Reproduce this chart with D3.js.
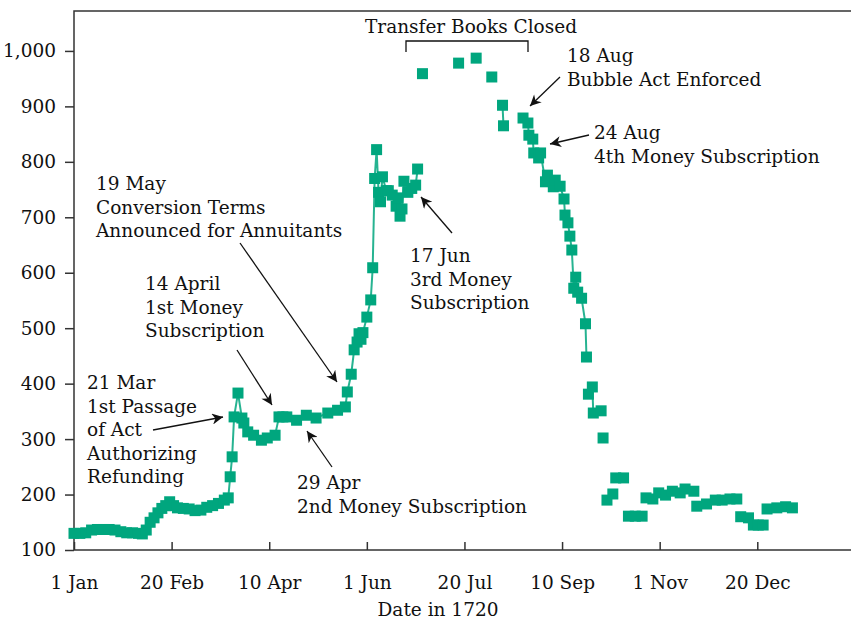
<!DOCTYPE html>
<html>
<head>
<meta charset="utf-8">
<script src="https://cdn.jsdelivr.net/npm/d3@7"></script>
<style>
    body { margin: 0; background: #fff; }
    text { font-family: "DejaVu Serif", "Liberation Serif", serif; fill: #111; }
</style>
</head>
<body>
<div id="chart"></div>
<script>
// Day of year 1720 (0 = 1 Jan) and share price
const days = [0, 3, 6, 9, 12, 15, 18, 21, 24, 27, 30, 33, 35, 37, 39, 41, 43, 45, 47, 49,
    51, 53, 56, 59, 62, 65, 68, 71, 74, 77, 79, 80, 81, 82, 84, 86, 87, 89, 92, 96,
    99, 103, 105, 107, 109, 114, 119, 124, 130, 135, 139, 140, 142, 143.5, 145, 146, 147, 148, 150, 152,
    153, 154, 155, 156, 157, 158, 160, 161, 163, 165, 166, 167, 168, 169, 171, 173, 175, 176,
    178.5, 197, 206, 214, 219.5, 220,
    230, 232.5, 233, 235, 235.5, 238, 239, 241.5, 242.5, 245.5, 246.5, 249, 251, 251.5, 253, 254, 255, 256, 257, 258, 260, 262, 262.5,
    263.5, 265.5, 266, 270,
    271, 273, 276, 277.5, 281.5, 284, 287.5, 291, 293, 296.5, 299.5, 303, 306.5, 310.5, 313, 317.5,
    319, 324, 328.5, 332, 336, 339.5, 341.5, 345.5, 348, 350.5, 353, 355, 360, 364.5, 368];
const prices = [130, 130, 131, 136, 137, 137, 137, 136, 133, 131, 131, 130, 129, 136, 150, 158, 167, 175, 180, 187,
    180, 176, 175, 174, 171, 172, 177, 180, 184, 190, 194, 232, 268, 340, 383, 338, 329, 313, 307, 298,
    302, 307, 340, 340, 340, 334, 343, 338, 347, 352, 358, 385, 417, 461, 475, 490, 480, 492, 520, 551,
    609, 770, 822, 745, 728, 773, 748, 748, 740, 720, 735, 702, 715, 765, 745, 752, 758, 787,
    959, 978, 987, 953, 902, 865,
    879, 870, 848, 841, 816, 807, 816, 764, 776, 755, 767, 756, 733, 704, 690, 666, 641, 572, 592, 565, 554, 508, 448,
    381, 394, 347, 351,
    302, 190, 201, 230, 230, 161, 161, 161, 194, 192, 203, 199, 206, 203, 210, 206,
    179, 183, 190, 190, 192, 192, 160, 158, 145, 145, 145, 174, 176, 178, 176];
// line restarts at these days; from looseFrom on the points stand alone
const lineBreaks = [178.5, 197, 206, 214, 219.5, 230, 263.5];
const looseFrom = 271;

const xTicks = [0, 50, 100, 150, 200, 250, 300, 350];
const xTickLabels = ["1 Jan", "20 Feb", "10 Apr", "1 Jun", "20 Jul", "10 Sep", "1 Nov", "20 Dec"];
const yTicks = [100, 200, 300, 400, 500, 600, 700, 800, 900, 1000];

const notes = [
    { lines: ["Transfer Books Closed"], x: 471, y: 33, anchor: "middle" },
    { lines: ["18 Aug", "Bubble Act Enforced"], x: 567, y: 62, arrow: [560, 77, 530, 106] },
    { lines: ["24 Aug", "4th Money Subscription"], x: 594, y: 139, arrow: [589, 135, 550, 144] },
    { lines: ["19 May", "Conversion Terms", "Announced for Annuitants"], x: 96, y: 190, arrow: [240, 243, 337, 382] },
    { lines: ["14 April", "1st Money", "Subscription"], x: 145, y: 290, arrow: [237, 350, 272, 405] },
    { lines: ["21 Mar", "1st Passage", "of Act", "Authorizing", "Refunding"], x: 87, y: 389, arrow: [153, 430, 223, 417] },
    { lines: ["29 Apr", "2nd Money Subscription"], x: 297, y: 489, arrow: [332, 467, 307, 431] },
    { lines: ["17 Jun", "3rd Money", "Subscription"], x: 410, y: 262, arrow: [452, 233, 421, 197] }
];

const W = 851, H = 620;
const color = "#00a67e";
const fs = 18.5;

const svg = d3.select("#chart").append("svg")
    .attr("width", W)
    .attr("height", H);

const x = d3.scaleLinear().domain([0, 398]).range([74, 851]);
const y = d3.scaleLinear().domain([100, 1072]).range([550, 11]);

// arrow head
svg.append("defs").append("marker")
    .attr("id", "head")
    .attr("viewBox", "0 0 10 10")
    .attr("refX", 10).attr("refY", 5)
    .attr("markerWidth", 13).attr("markerHeight", 11)
    .attr("markerUnits", "userSpaceOnUse")
    .attr("orient", "auto")
    .append("path")
    .attr("d", "M0,0 L10,5 L0,10 L3,5 Z")
    .attr("fill", "#111");

// frame
svg.append("path")
    .attr("d", `M${W},11 H74 V550 H${W}`)
    .attr("fill", "none")
    .attr("stroke", "#333")
    .attr("stroke-width", 1.5);

// Y axis
const yAxis = svg.append("g")
    .attr("transform", "translate(74,0)")
    .call(d3.axisLeft(y).tickValues(yTicks).tickSize(9).tickPadding(9)
        .tickFormat(d3.format(",")));
yAxis.select(".domain").remove();
yAxis.selectAll("line").attr("stroke", "#333").attr("stroke-width", 1.5);
yAxis.selectAll("text").attr("font-size", fs).attr("font-family", null).attr("fill", "#111");

// X axis
const xAxis = svg.append("g")
    .attr("transform", "translate(0,550)")
    .call(d3.axisBottom(x).tickValues(xTicks).tickSizeInner(-8).tickSizeOuter(0).tickPadding(26)
        .tickFormat((d, i) => xTickLabels[i]));
xAxis.select(".domain").remove();
xAxis.selectAll("line").attr("stroke", "#333").attr("stroke-width", 1.5);
xAxis.selectAll("text").attr("font-size", fs).attr("font-family", null).attr("fill", "#111");

svg.append("text")
    .attr("x", 438).attr("y", 616)
    .attr("text-anchor", "middle")
    .attr("font-size", fs)
    .text("Date in 1720");

// points and line segments
const pts = days.map((d, i) => ({ day: d, price: prices[i] }));
const segments = [];
pts.forEach(p => {
    if (segments.length === 0 || lineBreaks.includes(p.day) || p.day >= looseFrom) {
        segments.push([p]);
    } else {
        segments[segments.length - 1].push(p);
    }
});

const line = d3.line().x(d => x(d.day)).y(d => y(d.price));
svg.append("g").selectAll("path")
    .data(segments.filter(s => s.length > 1))
    .join("path")
    .attr("d", line)
    .attr("fill", "none")
    .attr("stroke", color)
    .attr("stroke-opacity", 0.85)
    .attr("stroke-width", 2);

const s = 11;
svg.append("g").selectAll("rect")
    .data(pts)
    .join("rect")
    .attr("x", d => x(d.day) - s / 2)
    .attr("y", d => y(d.price) - s / 2)
    .attr("width", s)
    .attr("height", s)
    .attr("fill", color);

// bracket for the closed books
svg.append("path")
    .attr("d", "M406,52 V41 H528 V52")
    .attr("fill", "none")
    .attr("stroke", "#111")
    .attr("stroke-width", 1.3);

// annotations
notes.forEach(n => {
    const t = svg.append("text")
        .attr("x", n.x).attr("y", n.y)
        .attr("font-size", fs)
        .attr("text-anchor", n.anchor || "start");
    n.lines.forEach((l, i) => {
        t.append("tspan").attr("x", n.x).attr("dy", i === 0 ? 0 : 23.5).text(l);
    });
    if (n.arrow) {
        svg.append("line")
            .attr("x1", n.arrow[0]).attr("y1", n.arrow[1])
            .attr("x2", n.arrow[2]).attr("y2", n.arrow[3])
            .attr("stroke", "#111")
            .attr("stroke-width", 1.3)
            .attr("marker-end", "url(#head)");
    }
});
</script>
</body>
</html>
